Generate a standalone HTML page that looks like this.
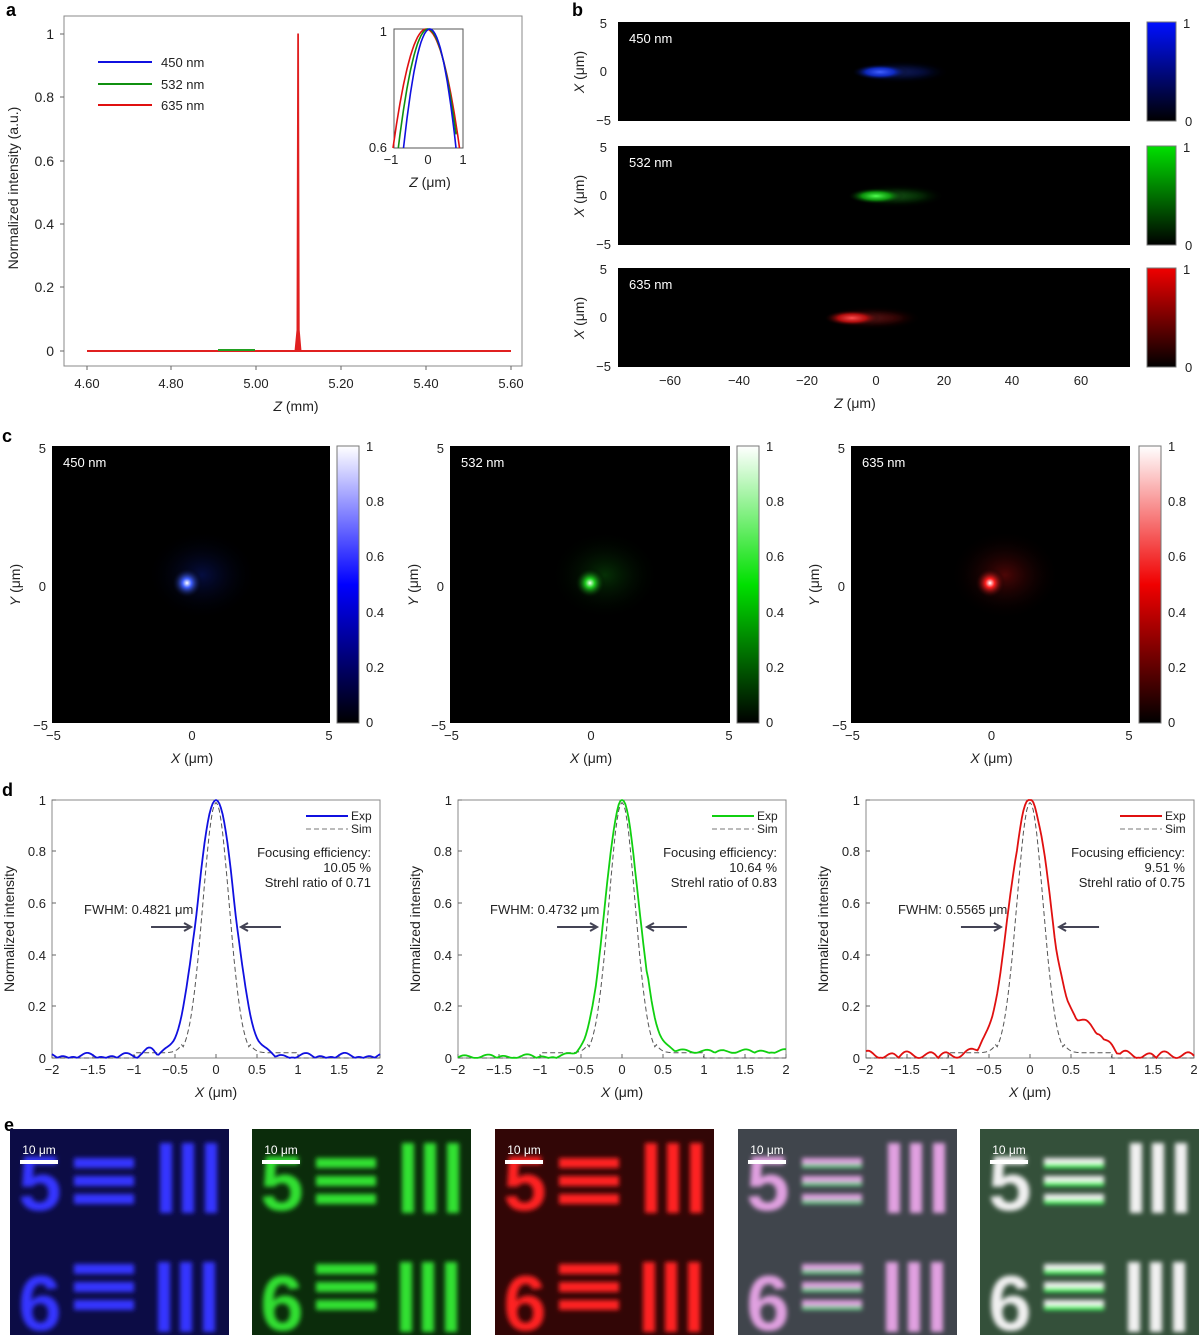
<!DOCTYPE html>
<html><head><meta charset="utf-8"><style>
html,body{margin:0;padding:0;background:#fff;}
svg{display:block;font-family:"Liberation Sans",sans-serif;}
</style></head><body>
<svg id="s" width="1200" height="1335" viewBox="0 0 1200 1335" xmlns="http://www.w3.org/2000/svg">
<defs>
<linearGradient id="cbB" x1="0" y1="1" x2="0" y2="0"><stop offset="0" stop-color="#000"/><stop offset="1" stop-color="#0010ff"/></linearGradient>
<linearGradient id="cbG" x1="0" y1="1" x2="0" y2="0"><stop offset="0" stop-color="#000"/><stop offset="1" stop-color="#00e000"/></linearGradient>
<linearGradient id="cbR" x1="0" y1="1" x2="0" y2="0"><stop offset="0" stop-color="#000"/><stop offset="1" stop-color="#f00000"/></linearGradient>
<linearGradient id="cbB2" x1="0" y1="1" x2="0" y2="0"><stop offset="0" stop-color="#000"/><stop offset="0.5" stop-color="#0000ff"/><stop offset="1" stop-color="#fff"/></linearGradient>
<linearGradient id="cbG2" x1="0" y1="1" x2="0" y2="0"><stop offset="0" stop-color="#000"/><stop offset="0.5" stop-color="#00e000"/><stop offset="1" stop-color="#fff"/></linearGradient>
<linearGradient id="cbR2" x1="0" y1="1" x2="0" y2="0"><stop offset="0" stop-color="#000"/><stop offset="0.5" stop-color="#f00000"/><stop offset="1" stop-color="#fff"/></linearGradient>
<radialGradient id="sB"><stop offset="0" stop-color="#4060ff"/><stop offset="0.5" stop-color="#1030e0" stop-opacity="0.8"/><stop offset="1" stop-color="#000" stop-opacity="0"/></radialGradient>
<radialGradient id="sG"><stop offset="0" stop-color="#50ff50"/><stop offset="0.5" stop-color="#10b010" stop-opacity="0.8"/><stop offset="1" stop-color="#000" stop-opacity="0"/></radialGradient>
<radialGradient id="sR"><stop offset="0" stop-color="#ff5050"/><stop offset="0.5" stop-color="#d01010" stop-opacity="0.8"/><stop offset="1" stop-color="#000" stop-opacity="0"/></radialGradient>
<radialGradient id="pB"><stop offset="0" stop-color="#fff"/><stop offset="0.3" stop-color="#4060ff"/><stop offset="1" stop-color="#000" stop-opacity="0"/></radialGradient>
<radialGradient id="pG"><stop offset="0" stop-color="#eaffea"/><stop offset="0.3" stop-color="#20d020"/><stop offset="1" stop-color="#000" stop-opacity="0"/></radialGradient>
<radialGradient id="pR"><stop offset="0" stop-color="#fff"/><stop offset="0.3" stop-color="#ff2020"/><stop offset="1" stop-color="#000" stop-opacity="0"/></radialGradient>
<radialGradient id="hB"><stop offset="0" stop-color="#0a1a80" stop-opacity="0.5"/><stop offset="1" stop-color="#000" stop-opacity="0"/></radialGradient>
<radialGradient id="hG"><stop offset="0" stop-color="#0a600a" stop-opacity="0.5"/><stop offset="1" stop-color="#000" stop-opacity="0"/></radialGradient>
<radialGradient id="hR"><stop offset="0" stop-color="#800a0a" stop-opacity="0.6"/><stop offset="1" stop-color="#000" stop-opacity="0"/></radialGradient>
<filter id="bl"><feGaussianBlur stdDeviation="2.5"/></filter>
</defs>
<g id="root" font-size="13" fill="#222"></g>
</svg>
<script>
const R=document.getElementById('root');let h='';
function t(x,y,s,o){o=o||{};h+=`<text x="${x}" y="${y}" font-size="${o.fs||13}" text-anchor="${o.a||'middle'}" ${o.r?`transform="rotate(-90 ${x} ${y})"`:''} ${o.b?'font-weight="bold"':''} fill="${o.c||'#222'}">${s}</text>`;}
function L(x1,y1,x2,y2,c,w,d){h+=`<line x1="${x1}" y1="${y1}" x2="${x2}" y2="${y2}" stroke="${c||'#333'}" stroke-width="${w||1}" ${d?`stroke-dasharray="${d}"`:''}/>`;}
function rect(x,y,w,hh,f,s){h+=`<rect x="${x}" y="${y}" width="${w}" height="${hh}" fill="${f}" ${s?`stroke="${s}"`:''}/>`;}
t(6,16,'a',{fs:18,b:1,a:'start',c:'#000'});t(572,16,'b',{fs:18,b:1,a:'start',c:'#000'});
t(2,442,'c',{fs:18,b:1,a:'start',c:'#000'});t(2,796,'d',{fs:18,b:1,a:'start',c:'#000'});t(4,1131,'e',{fs:18,b:1,a:'start',c:'#000'});
rect(64,16,458,350,'none','#888');
[[1,34],[0.8,97],[0.6,161],[0.4,224],[0.2,287],[0,351]].forEach(([v,y])=>{t(54,y+5,v,{a:'end',fs:14});L(60,y,64,y,'#666');});
[['4.60',87],['4.80',171],['5.00',256],['5.20',341],['5.40',426],['5.60',511]].forEach(([v,x])=>{t(x,388,v);L(x,366,x,370,'#666');});
t(296,411,'<tspan font-style="italic">Z</tspan> (mm)',{fs:14});
t(18,188,'Normalized intensity (a.u.)',{fs:14,r:1});
L(87,351,511,351,'#e02020',2);
h+=`<path d="M295,351 L297,330 L297.7,34 L298.5,34 L299.2,330 L301,351" fill="#e02020" stroke="#e02020" stroke-width="1"/>`;
L(218,350,255,350,'#20a020',2);
[['#1010e0','450 nm',62],['#109010','532 nm',84],['#e01010','635 nm',105]].forEach(([c,s,y])=>{L(98,y,152,y,c,2);t(161,y+5,s,{a:'start'});});
rect(394,29,69,119,'none','#555');
t(387,36,'1',{a:'end'});t(387,152,'0.6',{a:'end'});
t(391,164,'−1');t(428,164,'0');t(463,164,'1');
t(430,187,'<tspan font-style="italic">Z</tspan> (μm)',{fs:14});
function inset(c,w,sh){let p='';for(let i=0;i<=40;i++){let z=-1+i/20;let v=1-((z-sh)/w)**2*0.4;let y=29+(1-v)/0.4*119;if(y>148)continue;p+=(p?'L':'M')+(428+z*35).toFixed(1)+','+y.toFixed(1);}h+=`<path d="${p}" fill="none" stroke="${c}" stroke-width="1.6"/>`;}
inset('#e01010',0.95,-0.05);inset('#109010',0.85,0);inset('#1010e0',0.75,0.05);
const bp=[[22,'450 nm','sB','cbB',880],[146,'532 nm','sG','cbG',876],[268,'635 nm','sR','cbR',852]];
bp.forEach(([y,s,g,cb,cx])=>{rect(618,y,512,99,'#000');
h+=`<ellipse cx="${cx+20}" cy="${y+50}" rx="50" ry="9" fill="url(#${g})" opacity="0.35" filter="url(#bl)"/>`;
h+=`<ellipse cx="${cx}" cy="${y+50}" rx="28" ry="8" fill="url(#${g})"/>`;
t(629,y+21,s,{a:'start',c:'#fff'});
rect(1147,y,29,99,`url(#${cb})`,'#777');t(1183,y+6,'1',{a:'start'});t(1185,y+104,'0',{a:'start'});
t(607,y+6,'5',{a:'end'});t(607,y+54,'0',{a:'end'});t(611,y+103,'−5',{a:'end'});
t(584,y+50,'<tspan font-style="italic">X</tspan> (μm)',{fs:14,r:1});});
[[-60,670],[-40,739],[-20,807],[0,876],[20,944],[40,1012],[60,1081]].forEach(([v,x])=>t(x,385,v<0?'−'+(-v):v));
t(855,408,'<tspan font-style="italic">Z</tspan> (μm)',{fs:14});
const cp=[[52,330,337,'450 nm','pB','hB','cbB2',187],[450,730,737,'532 nm','pG','hG','cbG2',590],[851,1130,1139,'635 nm','pR','hR','cbR2',990]];
cp.forEach(([x0,x1,cbx,s,g,hg,cb,cx])=>{rect(x0,446,x1-x0,277,'#000');
h+=`<ellipse cx="${cx+15}" cy="575" rx="55" ry="45" fill="url(#${hg})"/>`;
h+=`<circle cx="${cx}" cy="583" r="15" fill="url(#${g})"/>`;
t(x0+11,467,s,{a:'start',c:'#fff'});
rect(cbx,446,22,277,`url(#${cb})`,'#777');
[[1,446],[0.8,501],[0.6,556],[0.4,612],[0.2,667],[0,722]].forEach(([v,y])=>t(cbx+29,y+5,v,{a:'start'}));
t(x0-6,453,'5',{a:'end'});t(x0-6,591,'0',{a:'end'});t(x0-4,730,'−5',{a:'end'});
t(x0-6,740,'−5',{a:'start'});t((x0+x1)/2+1,740,'0');t(x1-1,740,'5');
t((x0+x1)/2+1,763,'<tspan font-style="italic">X</tspan> (μm)',{fs:14});
t(x0-32,585,'<tspan font-style="italic">Y</tspan> (μm)',{fs:14,r:1});});
const dp=[[52,'#1010e0','0.4821','10.05 %','0.71',0.22,0.02],[458,'#10d010','0.4732','10.64 %','0.83',0.2,0.015],[866,'#e01010','0.5565','9.51 %','0.75',0.24,0.03]];
dp.forEach(([x0,c,fw,fe,sr,sg,nz],k)=>{const X=v=>x0+(v+2)*82,Y=v=>1058-v*258;
rect(x0,800,328,258,'none','#888');
[[1,800],[0.8,851],[0.6,903],[0.4,955],[0.2,1006],[0,1058]].forEach(([v,y])=>{t(x0-6,y+5,v,{a:'end'});L(x0,y,x0+4,y,'#666');});
['−2','−1.5','−1','−0.5','0','0.5','1','1.5','2'].forEach((s,i)=>{let x=x0+i*41;t(x,1074,s);L(x,1058,x,1054,'#666');});
t(x0+164,1097,'<tspan font-style="italic">X</tspan> (μm)',{fs:14});
t(x0-38,929,'Normalized intensity',{fs:14,r:1});
let p='',q='';for(let i=0;i<=200;i++){let v=-2+i/50;
let e=Math.exp(-v*v/(2*sg*sg));let n=Math.abs(Math.sin(v*13+k)*Math.sin(v*7))*nz;
if(k==0&&v>-0.95&&v<-0.7)n+=0.03*Math.sin((v+0.95)/0.25*Math.PI);
if(k==2&&v>0.3&&v<1.1)n+=0.1*Math.sin((v-0.3)/0.8*Math.PI);
if(k==1&&v>0.3)n+=0.02;
let g=Math.exp(-v*v/(2*0.16*0.16));
p+=(p?'L':'M')+X(v).toFixed(1)+','+Y(Math.min(1,e+n)).toFixed(1);
q+=(q?'L':'M')+X(v).toFixed(1)+','+Y(g*0.99+(Math.abs(v)>0.4&&Math.abs(v)<1?0.02:0)).toFixed(1);}
h+=`<path d="${q}" fill="none" stroke="#555" stroke-width="1" stroke-dasharray="5,3"/>`;
h+=`<path d="${p}" fill="none" stroke="${c}" stroke-width="1.8"/>`;
L(x0+254,816,x0+296,816,c,2);t(x0+299,820,'Exp',{a:'start',fs:12});
L(x0+254,829,x0+296,829,'#777',1,'5,3');t(x0+299,833,'Sim',{a:'start',fs:12});
t(x0+319,857,'Focusing efficiency:',{a:'end'});t(x0+319,872,fe,{a:'end'});t(x0+319,887,'Strehl ratio of '+sr,{a:'end'});
t(x0+32,914,'FWHM: '+fw+' μm',{a:'start'});
const hw=k==2?0.33:0.28;
h+=`<path d="M${X(-hw)-42},927 L${X(-hw)-2},927 M${X(-hw)-9},923 L${X(-hw)-2},927 L${X(-hw)-9},931 M${X(hw)+42},927 L${X(hw)+2},927 M${X(hw)+9},923 L${X(hw)+2},927 L${X(hw)+9},931" fill="none" stroke="#445" stroke-width="2"/>`;});
const ep=[[10,'#0c0c45','#3535ff'],[252,'#0b2c0b','#30e030'],[495,'#320606','#ff2020'],[738,'#40454c','#e0a0e0'],[980,'#34503a','#f0f0f0']];
ep.forEach(([x0,bg,fg],k)=>{rect(x0,1129,219,206,bg);
h+=`<g filter="url(#bl)">`;
h+=`<text x="${x0+30}" y="1210" font-size="78" font-weight="bold" fill="${fg}" text-anchor="middle">5</text>`;
h+=`<text x="${x0+30}" y="1330" font-size="78" font-weight="bold" fill="${fg}" text-anchor="middle">6</text>`;
[1158,1176,1194,1264,1282,1300].forEach(y=>rect(x0+64,y,60,10,fg));
[[150,1143,70],[172,1143,70],[195,1143,70],[148,1262,70],[170,1262,70],[193,1262,70]].forEach(([dx,y,hh])=>rect(x0+dx,y,12,hh,fg));
if(k>=3)[1164,1182,1200,1270,1288,1306].forEach(y=>rect(x0+64,y,60,4,k==3?'#70d090':'#40ff60'));
h+=`</g>`;
rect(x0+10,1160,38,4,'#fff');t(x0+29,1154,'10 μm',{c:'#fff',fs:12});});
R.innerHTML=h;
</script>
</body></html>
